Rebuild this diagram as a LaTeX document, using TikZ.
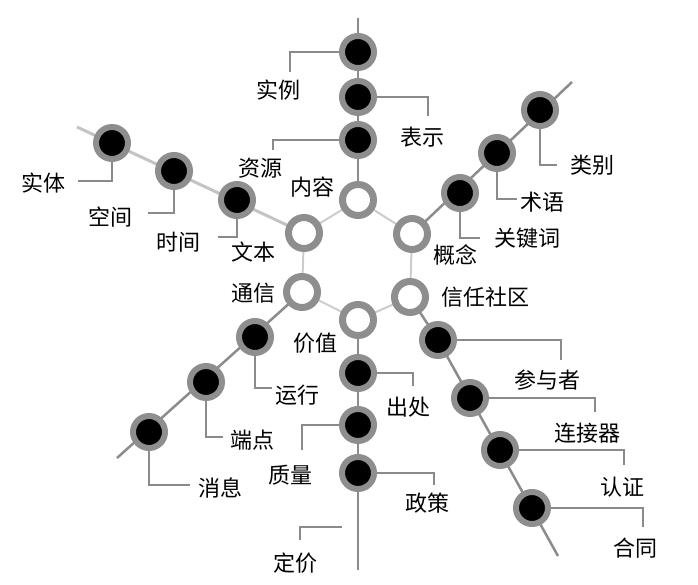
\documentclass[tikz,border=0pt]{standalone}
\usepackage{fontspec}
\newfontfamily\cjk{Noto Sans CJK SC}
\usetikzlibrary{backgrounds}
\definecolor{ringgray}{HTML}{8E8E8E}
\definecolor{leadgray}{HTML}{8A8A8A}
\definecolor{spokegray}{HTML}{8C8C8C}
\definecolor{lightspoke}{HTML}{C4C4C4}
\definecolor{ringline}{HTML}{CCCCCC}
\begin{document}
\begin{tikzpicture}[x=1pt,y=-1pt,
  blk/.style={circle, fill=black, draw=ringgray, line width=6pt, minimum size=32pt, inner sep=0pt},
  hub/.style={circle, fill=white, draw=ringgray, line width=7pt, minimum size=31pt, inner sep=0pt},
  lbl/.style={font=\cjk\fontsize{22}{22}\selectfont, inner sep=0pt},
  lead/.style={draw=leadgray, line width=1.5pt},
  spoke/.style={draw=spokegray, line width=2.5pt},
  lspoke/.style={draw=lightspoke, line width=3pt},
  ring/.style={draw=ringline, line width=2pt}]
\useasboundingbox (0,0) rectangle (698,585);
% hubs
\node[hub] (h1) at (358,200) {};
\node[hub] (h2) at (412,234) {};
\node[hub] (h3) at (410,297) {};
\node[hub] (h4) at (358,320) {};
\node[hub] (h5) at (302,292) {};
\node[hub] (h6) at (304,233) {};
% branch nodes
\node[blk] (shili) at (358,52) {};
\node[blk] (biaoshi) at (358,97) {};
\node[blk] (ziyuan) at (358,140) {};
\node[blk] (shiti) at (112,143) {};
\node[blk] (kongjian) at (174,171) {};
\node[blk] (shijian) at (237,200) {};
\node[blk] (leibie) at (540,110) {};
\node[blk] (shuyu) at (497,153) {};
\node[blk] (guanjianci) at (460,193) {};
\node[blk] (yunxing) at (255,337) {};
\node[blk] (duandian) at (206,382) {};
\node[blk] (xiaoxi) at (149,432) {};
\node[blk] (chuchu) at (358,373) {};
\node[blk] (zhiliang) at (358,425) {};
\node[blk] (zhengce) at (358,473) {};
\node[blk] (canyuzhe) at (438,340) {};
\node[blk] (lianjieqi) at (470,398) {};
\node[blk] (renzheng) at (500,450) {};
\node[blk] (hetong) at (532,508) {};
% free ends
\coordinate (tTop) at (358,18);
\coordinate (tUL) at (77,127);
\coordinate (tUR) at (572,82);
\coordinate (tLR) at (558,556);
\coordinate (tB) at (358,570);
\coordinate (tLL) at (117,458);
\coordinate (dj) at (342,527);
% labels
\node[lbl] (l1) at (278,90) {实例};
\node[lbl] (l2) at (422,137) {表示};
\node[lbl] (l3) at (260,168) {资源};
\node[lbl] (l4) at (312,187) {内容};
\node[lbl] (l5) at (43,183) {实体};
\node[lbl] (l6) at (110,217) {空间};
\node[lbl] (l7) at (178,242) {时间};
\node[lbl] (l8) at (253,252) {文本};
\node[lbl] (l9) at (253,293) {通信};
\node[lbl] (l10) at (592,165) {类别};
\node[lbl] (l11) at (542,202) {术语};
\node[lbl] (l12) at (527,238) {关键词};
\node[lbl] (l13) at (455,255) {概念};
\node[lbl] (l14) at (485,297) {信任社区};
\node[lbl] (l15) at (297,395) {运行};
\node[lbl] (l16) at (252,440) {端点};
\node[lbl] (l17) at (220,488) {消息};
\node[lbl] (l18) at (315,343) {价值};
\node[lbl] (l19) at (408,407) {出处};
\node[lbl] (l20) at (290,475) {质量};
\node[lbl] (l21) at (427,503) {政策};
\node[lbl] (l22) at (295,563) {定价};
\node[lbl] (l23) at (547,380) {参与者};
\node[lbl] (l24) at (587,433) {连接器};
\node[lbl] (l25) at (622,487) {认证};
\node[lbl] (l26) at (635,548) {合同};
\begin{scope}[on background layer]
  % hexagon ring
  \draw[ring] (h1.center) -- (h2.center) -- (h3.center) -- (h4.center) -- (h5.center) -- (h6.center) -- cycle;
  % spokes
  \draw[spoke] (h1.center) -- (tTop);
  \draw[lspoke] (h6.center) -- (tUL);
  \draw[spoke] (h2.center) -- (tUR);
  \draw[spoke] (h3.center) -- (canyuzhe.center) -- (tLR);
  \draw[spoke] (h4.center) -- (tB);
  \draw[spoke] (h5.center) -- (tLL);
  % leaders
  \draw[lead] (shili.center) -| (290,72);
  \draw[lead] (biaoshi.center) -| (428,116);
  \draw[lead] (ziyuan.center) -| (273,150);
  \draw[lead] (shiti.center) |- (78,181);
  \draw[lead] (kongjian.center) |- (148,213);
  \draw[lead] (shijian.center) |- (218,237);
  \draw[lead] (leibie.center) |- (557,165);
  \draw[lead] (shuyu.center) |- (517,199);
  \draw[lead] (guanjianci.center) |- (480,238);
  \draw[lead] (yunxing.center) |- (272,388);
  \draw[lead] (duandian.center) |- (223,437);
  \draw[lead] (xiaoxi.center) |- (190,485);
  \draw[lead] (chuchu.center) -| (413,386);
  \draw[lead] (zhiliang.center) -| (302,450);
  \draw[lead] (zhengce.center) -| (434,485);
  \draw[lead] (dj) -| (300,540);
  \draw[lead] (canyuzhe.center) -| (561,360);
  \draw[lead] (lianjieqi.center) -| (595,412);
  \draw[lead] (renzheng.center) -| (624,465);
  \draw[lead] (hetong.center) -| (643,527);
\end{scope}
\end{tikzpicture}
\end{document}
